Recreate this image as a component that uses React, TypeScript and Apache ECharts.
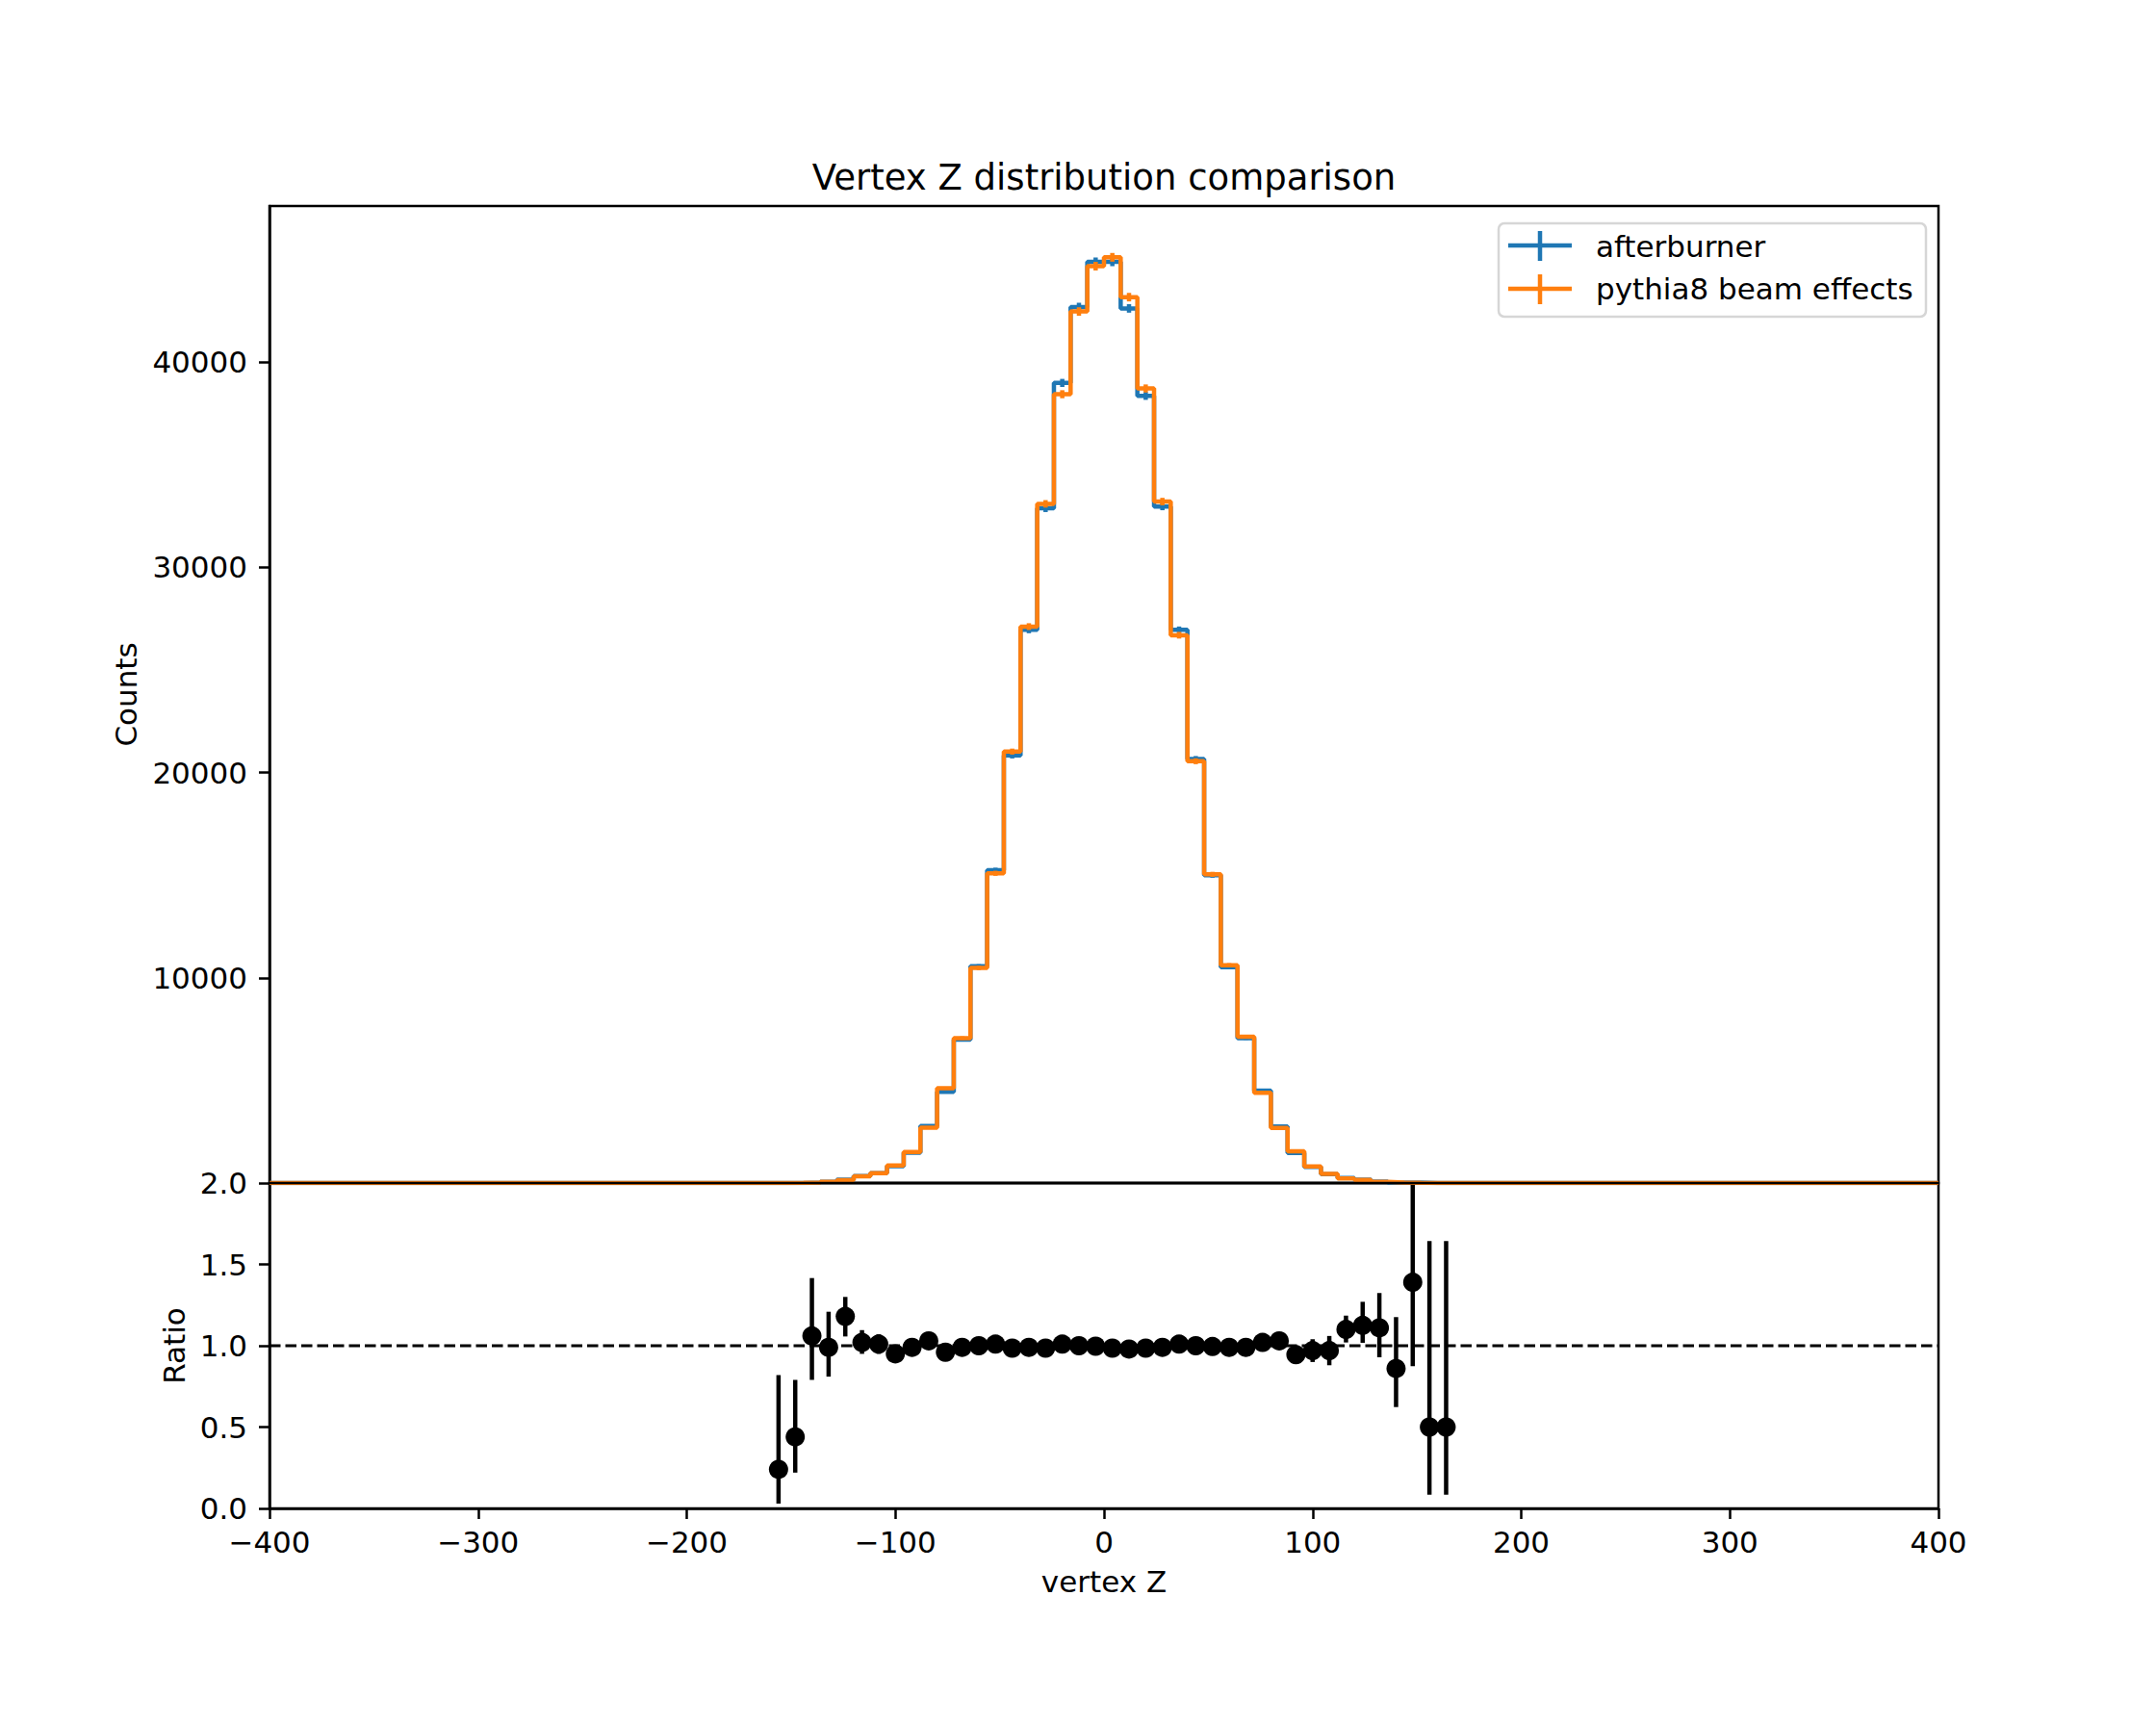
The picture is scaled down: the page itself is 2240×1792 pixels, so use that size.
import React, { useEffect, useRef } from "react";
import * as echarts from "echarts";

// ---------------- data ----------------
const BIN_LOW = -400;
const BIN_WIDTH = 8;
const BIN_COUNT = 100;

// 100 bins of width 8 from -400 to 400 (index i -> centre -396 + 8 i)
const pythia8Counts = [
  0, 0, 0, 0, 0, 0, 0, 0, 0, 0, 0, 0, 0, 0, 0, 0, 0, 0, 0, 0, 0, 0, 0, 0, 0, 0, 0, 0,
  1, 0, 4, 9, 18, 60, 140, 330, 480, 860, 1510, 2700, 4620, 7060, 10480, 15090, 21020,
  27110, 33090, 38430, 42460, 44670, 45100, 43160, 38710, 33200, 26690, 20550, 15040,
  10610, 7130, 4400, 2680, 1550, 805, 445, 226, 150, 62, 29, 13, 2, 2, 0,
  0, 0, 0, 0, 0, 0, 0, 0, 0, 0, 0, 0, 0, 0, 0, 0, 0, 0, 0, 0, 0, 0, 0, 0, 0, 0, 0, 0,
];

const afterburnerCounts = [
  0, 0, 0, 0, 0, 0, 0, 0, 0, 0, 0, 0, 0, 0, 0, 0, 0, 0, 0, 0, 0, 0, 0, 0, 0, 0, 0, 0,
  0, 1, 1, 4, 19, 59, 165, 337, 485, 817, 1480, 2780, 4440, 6990, 10560, 15240, 20830,
  26950, 32870, 38980, 42680, 44880, 44880, 42610, 38350, 32960, 26950, 20660, 15000,
  10520, 7060, 4500, 2760, 1465, 780, 432, 249, 169, 69, 25, 18, 1, 1, 1,
  0, 0, 0, 0, 0, 0, 0, 0, 0, 0, 0, 0, 0, 0, 0, 0, 0, 0, 0, 0, 0, 0, 0, 0, 0, 0, 0, 0,
];

const ratioZ = [
  -156, -148, -140, -132, -124, -116, -108, -100, -92, -84, -76, -68, -60, -52, -44, -36,
  -28, -20, -12, -4, 4, 12, 20, 28, 36, 44, 52, 60, 68, 76, 84, 92, 100, 108, 116, 124,
  132, 140, 148, 156, 164,
];
const ratioValues = [
  0.24, 0.44, 1.06, 0.99, 1.18, 1.02, 1.01, 0.95, 0.99, 1.03, 0.96, 0.99, 1.0, 1.01, 0.985,
  0.99, 0.985, 1.01, 1.0, 0.997, 0.985, 0.98, 0.985, 0.99, 1.01, 1.0, 0.995, 0.99, 0.99,
  1.02, 1.03, 0.945, 0.97, 0.97, 1.1, 1.125, 1.11, 0.86, 1.39, 0.5, 0.5,
];
const ratioLow = [
  0.03, 0.22, 0.79, 0.81, 1.057, 0.95, 0.95, 0.9, 0.94, 1.0, 0.94, 0.97, 0.99, 1.0, 0.975,
  0.98, 0.978, 1.003, 0.993, 0.99, 0.978, 0.973, 0.978, 0.982, 1.0, 0.99, 0.983, 0.975,
  0.97, 0.99, 0.99, 0.89, 0.9, 0.88, 1.02, 1.018, 0.929, 0.623, 0.874, 0.085, 0.085,
];
const ratioHigh = [
  0.82, 0.79, 1.416, 1.209, 1.3, 1.096, 1.07, 1.0, 1.03, 1.06, 0.98, 1.01, 1.01, 1.02, 0.995,
  1.0, 0.992, 1.017, 1.007, 1.004, 0.992, 0.987, 0.992, 0.998, 1.02, 1.01, 1.007, 1.005,
  1.01, 1.05, 1.07, 1.0, 1.04, 1.06, 1.185, 1.27, 1.324, 1.176, 2.0, 1.643, 1.643,
];

const countTicks = [10000, 20000, 30000, 40000];
const X_MIN = -400;
const X_MAX = 400;
const COUNTS_MAX = 47600;

const BLUE = "#1f77b4";
const ORANGE = "#ff7f0e";
const FONT = "DejaVu Sans";

// ---------------- layout ----------------
const W = 2240;
const H = 1792;
const LEFT = 280;
const RIGHT_X = 2014;
const TOP = 214;
const MID = 1229;
const BOTTOM = 1567;

function stepData(counts: number[]) {
  const pts: number[][] = [];
  for (let i = 0; i < BIN_COUNT; i++) pts.push([BIN_LOW + i * BIN_WIDTH, counts[i]]);
  pts.push([BIN_LOW + BIN_COUNT * BIN_WIDTH, counts[BIN_COUNT - 1]]);
  return pts;
}

function errData(counts: number[]) {
  const pts: number[][] = [];
  for (let i = 0; i < BIN_COUNT; i++) {
    if (counts[i] > 0) pts.push([BIN_LOW + (i + 0.5) * BIN_WIDTH, counts[i], Math.sqrt(counts[i])]);
  }
  return pts;
}

function vErrRender(color: string, width: number, mode: "sym" | "bounds") {
  return (params: any, api: any) => {
    const x = api.value(0);
    let lo: number, hi: number;
    if (mode === "sym") {
      const y = api.value(1);
      const e = api.value(2);
      lo = y - e;
      hi = y + e;
    } else {
      lo = api.value(1);
      hi = api.value(2);
    }
    const p1 = api.coord([x, lo]);
    const p2 = api.coord([x, hi]);
    return {
      type: "line",
      shape: { x1: p1[0], y1: p1[1], x2: p2[0], y2: p2[1] },
      style: { stroke: color, lineWidth: width },
    };
  };
}

const tickStyle = { color: "#000", width: 2.5 };
const labelStyle = { color: "#000", fontSize: 31, fontFamily: FONT };

function txt(text: string, x: number, y: number, size: number, extra: any = {}) {
  return {
    type: "text",
    x,
    y,
    z: 100,
    ...extra,
    style: {
      text,
      fill: "#000",
      fontSize: size,
      fontFamily: FONT,
      align: extra.align || "center",
      textAlign: extra.align || "center",
      verticalAlign: "middle",
      textVerticalAlign: "middle",
    },
  };
}

export default function App() {
  const ref = useRef<HTMLDivElement>(null);

  useEffect(() => {
    document.body.style.margin = "0";
    if (!ref.current) return;
    const chart = echarts.init(ref.current, undefined, { renderer: "svg", width: W, height: H });

    const ratioPoints = ratioZ.map((z, i) => [z, ratioValues[i]]);
    const ratioErr = ratioZ.map((z, i) => [z, ratioLow[i], ratioHigh[i]]);

    const option: any = {
      animation: false,
      backgroundColor: "#fff",
      textStyle: { fontFamily: FONT },
      grid: [
        {
          left: LEFT,
          top: TOP,
          width: RIGHT_X - LEFT,
          height: MID - TOP,
          show: true,
          borderColor: "#000",
          borderWidth: 2.5,
          backgroundColor: "transparent",
          containLabel: false,
          outerBoundsMode: "none",
        },
        {
          left: LEFT,
          top: MID,
          width: RIGHT_X - LEFT,
          height: BOTTOM - MID,
          show: true,
          borderColor: "#000",
          borderWidth: 2.5,
          backgroundColor: "transparent",
          containLabel: false,
          outerBoundsMode: "none",
        },
      ],
      xAxis: [
        {
          type: "value",
          gridIndex: 0,
          min: X_MIN,
          max: X_MAX,
          axisLine: { show: false },
          axisTick: { show: false },
          axisLabel: { show: false },
          splitLine: { show: false },
        },
        {
          type: "value",
          gridIndex: 1,
          min: X_MIN,
          max: X_MAX,
          interval: 100,
          axisLine: { show: true, onZero: false, lineStyle: tickStyle },
          axisTick: { show: true, length: 11, inside: false, lineStyle: tickStyle },
          axisLabel: {
            ...labelStyle,
            margin: 19,
            lineHeight: 31,
            formatter: (v: number) => String(v).replace("-", "\u2212"),
          },
          splitLine: { show: false },
        },
      ],
      yAxis: [
        {
          type: "value",
          gridIndex: 0,
          min: 0,
          max: COUNTS_MAX,
          axisLine: { show: true, onZero: false, lineStyle: tickStyle },
          axisTick: { show: true, length: 11, inside: false, lineStyle: tickStyle, customValues: countTicks },
          axisLabel: {
            ...labelStyle,
            margin: 23,
            customValues: countTicks,
            formatter: (v: number) => String(Math.round(v)),
          },
          splitLine: { show: false },
        },
        {
          type: "value",
          gridIndex: 1,
          min: 0,
          max: 2,
          interval: 0.5,
          axisLine: { show: true, onZero: false, lineStyle: tickStyle },
          axisTick: { show: true, length: 11, inside: false, lineStyle: tickStyle },
          axisLabel: { ...labelStyle, margin: 23, formatter: (v: number) => v.toFixed(1) },
          splitLine: { show: false },
        },
      ],
      series: [
        {
          name: "afterburner",
          type: "line",
          xAxisIndex: 0,
          yAxisIndex: 0,
          step: "end",
          data: stepData(afterburnerCounts),
          showSymbol: false,
          symbol: "none",
          lineStyle: { color: BLUE, width: 4.5 },
          itemStyle: { color: BLUE },
          z: 2,
        },
        {
          name: "afterburner err",
          type: "custom",
          xAxisIndex: 0,
          yAxisIndex: 0,
          data: errData(afterburnerCounts),
          renderItem: vErrRender(BLUE, 4.5, "sym"),
          encode: { x: 0, y: 1 },
          z: 3,
        },
        {
          name: "pythia8 beam effects",
          type: "line",
          xAxisIndex: 0,
          yAxisIndex: 0,
          step: "end",
          data: stepData(pythia8Counts),
          showSymbol: false,
          symbol: "none",
          lineStyle: { color: ORANGE, width: 4.5 },
          itemStyle: { color: ORANGE },
          z: 4,
        },
        {
          name: "pythia8 err",
          type: "custom",
          xAxisIndex: 0,
          yAxisIndex: 0,
          data: errData(pythia8Counts),
          renderItem: vErrRender(ORANGE, 4.5, "sym"),
          encode: { x: 0, y: 1 },
          z: 5,
        },
        {
          name: "unity",
          type: "line",
          xAxisIndex: 1,
          yAxisIndex: 1,
          data: [
            [X_MIN, 1],
            [X_MAX, 1],
          ],
          showSymbol: false,
          symbol: "none",
          lineStyle: { color: "#000", width: 3, type: [11.5, 5] },
          z: 2,
        },
        {
          name: "ratio err",
          type: "custom",
          xAxisIndex: 1,
          yAxisIndex: 1,
          data: ratioErr,
          renderItem: vErrRender("#000", 4.5, "bounds"),
          encode: { x: 0, y: [1, 2] },
          z: 3,
        },
        {
          name: "ratio",
          type: "scatter",
          xAxisIndex: 1,
          yAxisIndex: 1,
          data: ratioPoints,
          symbol: "circle",
          symbolSize: 20,
          itemStyle: { color: "#000", opacity: 1 },
          z: 4,
        },
      ],
      graphic: [
        {
          type: "line",
          z: 90,
          shape: { x1: LEFT, y1: MID, x2: RIGHT_X, y2: MID },
          style: { stroke: "#000", lineWidth: 2.5 },
        },
        txt("Vertex Z distribution comparison", (LEFT + RIGHT_X) / 2, 184, 37),
        txt("Counts", 131, (TOP + MID) / 2, 31, { rotation: Math.PI / 2 }),
        txt("Ratio", 181, (MID + BOTTOM) / 2, 31, { rotation: Math.PI / 2 }),
        txt("vertex Z", (LEFT + RIGHT_X) / 2, 1643, 31),
        {
          type: "rect",
          z: 95,
          shape: { x: 1557, y: 232, width: 444, height: 97, r: 6 },
          style: { fill: "#fff", stroke: "#d6d6d6", lineWidth: 2.5 },
        },
        {
          type: "line",
          z: 96,
          shape: { x1: 1567, y1: 255, x2: 1633, y2: 255 },
          style: { stroke: BLUE, lineWidth: 4.5 },
        },
        {
          type: "line",
          z: 96,
          shape: { x1: 1600, y1: 240, x2: 1600, y2: 271 },
          style: { stroke: BLUE, lineWidth: 4.5 },
        },
        {
          type: "line",
          z: 96,
          shape: { x1: 1567, y1: 300, x2: 1633, y2: 300 },
          style: { stroke: ORANGE, lineWidth: 4.5 },
        },
        {
          type: "line",
          z: 96,
          shape: { x1: 1600, y1: 285, x2: 1600, y2: 316 },
          style: { stroke: ORANGE, lineWidth: 4.5 },
        },
        txt("afterburner", 1658, 256, 31, { align: "left", z: 97 }),
        txt("pythia8 beam effects", 1658, 300, 31, { align: "left", z: 97 }),
      ],
    };

    chart.setOption(option);
    return () => {
      chart.dispose();
    };
  }, []);

  return <div ref={ref} style={{ width: W, height: H, background: "#fff" }} />;
}
